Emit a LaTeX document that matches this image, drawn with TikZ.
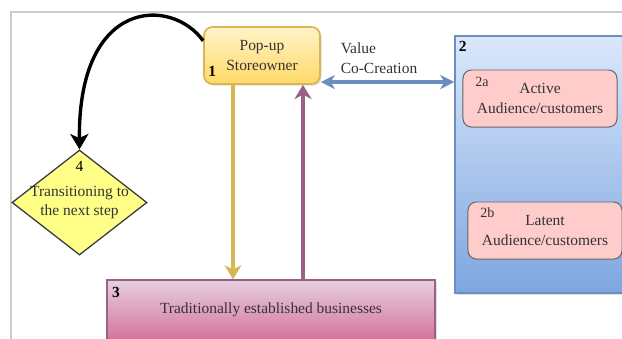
\documentclass[tikz,border=0pt]{standalone}
\usepackage{fontspec}
\setmainfont{Liberation Serif}
\usetikzlibrary{arrows.meta,calc,positioning,shapes.geometric,shadows}
\definecolor{txt}{HTML}{333333}
\definecolor{popline}{HTML}{D6B656}
\definecolor{poptop}{HTML}{FFF3C8}
\definecolor{popbot}{HTML}{FFD966}
\definecolor{grpline}{HTML}{6C8EBF}
\definecolor{grptop}{HTML}{DAE8FC}
\definecolor{grpbot}{HTML}{7EA6E0}
\definecolor{audfill}{HTML}{FFCCCC}
\definecolor{audline}{HTML}{666666}
\definecolor{tradline}{HTML}{996185}
\definecolor{tradtop}{HTML}{E6D0DE}
\definecolor{tradbot}{HTML}{D5739D}
\definecolor{diafill}{HTML}{FFFF88}
\definecolor{dialine}{HTML}{36393D}

\begin{document}
\begin{tikzpicture}[x=0.025cm,y=-0.025cm,>=Stealth,
  font=\fontsize{11}{14}\selectfont,
  box/.style={draw,line width=0.9pt,align=center,text=txt,inner sep=0pt},
  shade/.style={drop shadow={opacity=0.25,shadow xshift=1.2pt,shadow yshift=-1.2pt}},
  idx/.style={inner sep=0pt,font=\fontsize{11}{13}\selectfont\bfseries,text=black},
  subidx/.style={inner sep=0pt,font=\fontsize{10}{12}\selectfont,text=txt},
  conn/.style={line width=2.4pt,-{Stealth[length=10pt,width=12pt,inset=3pt]}}]
  \useasboundingbox (0,0) rectangle (622,338);
  \clip (0,0) rectangle (622,338);
  % frame
  \draw[gray!40,line width=1pt] (11,345) -- (11,12) -- (630,12);
  % storeowner
  \node[box,shade,rounded corners=6pt,draw=popline,line width=1.2pt,top color=poptop,bottom color=popbot,
    minimum width=2.9cm,minimum height=1.425cm] (pop) at (262,55.5) {Pop-up\\Storeowner};
  \node[idx,above right=6pt and 3.5pt of pop.south west] (n1) {1};
  % audience group
  \node[box,shade,draw=grpline,top color=grptop,bottom color=grpbot,
    minimum width=4.325cm,minimum height=6.425cm] (grp) at (541.5,164.5) {};
  \node[idx,below right=4pt and 3pt of grp.north west] (n2) {2};
  \node[box,rounded corners=6pt,draw=audline,line width=0.7pt,fill=audfill,
    minimum width=3.85cm,minimum height=1.425cm] (auda) at (540,98.5) {Active\\Audience/customers};
  \node[subidx,below right=5pt and 9pt of auda.north west] (n2a) {2a};
  \node[box,rounded corners=6pt,draw=audline,line width=0.7pt,fill=audfill,
    minimum width=3.85cm,minimum height=1.425cm] (audb) at (545,230.5) {Latent\\Audience/customers};
  \node[subidx,below right=4pt and 9pt of audb.north west] (n2b) {2b};
  % businesses
  \node[box,shade,draw=tradline,top color=tradtop,bottom color=tradbot,
    minimum width=8.2cm,minimum height=1.5cm] (trad) at (271,310) {Traditionally established businesses};
  \node[idx,below right=5.5pt and 4pt of trad.north west] (n3) {3};
  % next step
  \node[box,diamond,draw=dialine,fill=diafill,minimum width=3.375cm,minimum height=2.625cm]
    (dia) at (79.5,202.5) {};
  \node[align=center,text=txt,inner sep=0pt] (diatxt) at (dia.center) {Transitioning to\\the next step};
  \node[inner sep=0pt,below=8pt of dia.north] (n4) {4};
  % connectors
  \coordinate (gx) at (233,0);
  \coordinate (px) at (303,0);
  \draw[conn,popline] (pop.south -| gx) -- (trad.north -| gx);
  \draw[conn,tradline] (trad.north -| px) -- (pop.south -| px);
  \draw[line width=2.4pt,grpline,{Stealth[length=10pt,width=10pt,inset=3pt]}-{Stealth[length=10pt,width=10pt,inset=3pt]}]
    ([yshift=2pt]pop.south east) -- ([yshift=2pt]pop.south east -| grp.west);
  \node[align=left,text=txt] (vcc) at (379,58) {Value\\Co-Creation};
  \draw[line width=2.4pt,-{Stealth[length=11pt,width=13pt,inset=3pt]}]
    ($(pop.west)!0.5!(pop.north west)$) .. controls (172,-3) and (78,-3) .. (dia.north);
\end{tikzpicture}
\end{document}
